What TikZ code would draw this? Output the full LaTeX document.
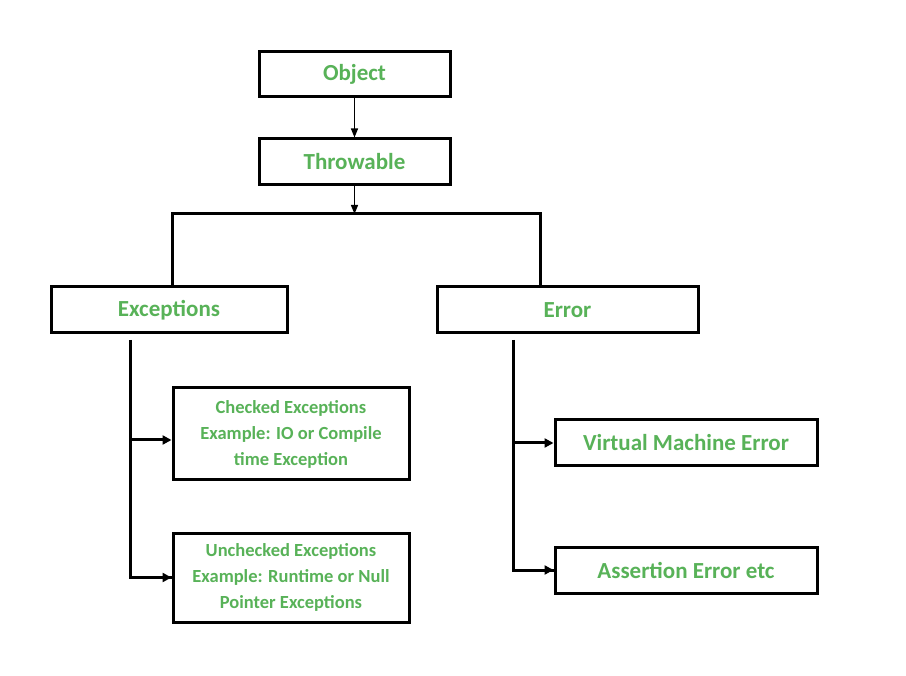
\documentclass[tikz,border=0pt]{standalone}
\usepackage{fontspec}
\setmainfont{Carlito}
\usetikzlibrary{arrows.meta}
\definecolor{gfg}{RGB}{88,178,88}
\tikzset{
  box/.style={draw=black, line width=3pt, fill=white, inner sep=0pt, align=center,
    text=gfg, font=\bfseries\fontsize{23}{27}\selectfont},
  smallbox/.style={box, font=\bfseries\fontsize{18.5}{26}\selectfont},
  thinarrow/.style={line width=1.2pt, -{Triangle[length=9pt,width=7pt]}},
  thick line/.style={line width=3pt},
  thickarrow/.style={line width=3pt, -{Triangle[length=9pt,width=9pt]}},
}
\begin{document}
\begin{tikzpicture}[x=1pt,y=-1pt]
\useasboundingbox[fill=white] (0,0) rectangle (906,676);
\node[box, minimum width=191pt, minimum height=45pt] (obj) at (354.5,74.5) {Object};
\node[box, minimum width=191pt, minimum height=46pt] (thr) at (354.5,162) {Throwable};
\node[box, minimum width=236pt, minimum height=46pt] (exc) at (169,310) {Exceptions};
\node[box, minimum width=261pt, minimum height=46pt] (err) at (567.5,310) {Error};
\node[smallbox, minimum width=236pt, minimum height=92pt] (chk) at (291,434) {Checked Exceptions\\Example: IO or Compile\\time Exception};
\node[smallbox, minimum width=236pt, minimum height=89pt] (unc) at (291,577.5) {Unchecked Exceptions\\Example: Runtime or Null\\Pointer Exceptions};
\node[box, minimum width=262pt, minimum height=46pt] (vme) at (686,443) {Virtual Machine Error};
\node[box, minimum width=262pt, minimum height=46pt] (ass) at (686,570) {Assertion Error etc};
\coordinate (bl) at (172,214);
\coordinate (br) at (540,214);
\coordinate (lt) at (130,340);
\coordinate (rt) at (513,340);
\draw[thinarrow] (obj.south) -- (thr.north);
\draw[thick line] (bl |- exc.north) -- (bl) -- (br) -- (br |- err.north);
\draw[thinarrow] (thr.south) -- (thr.south |- bl);
\draw[thick line] (lt) |- (unc.west);
\draw[thickarrow] (lt |- 0,440) -- (chk.west |- 0,440);
\draw[thickarrow] (lt |- unc.west) -- (unc.west);
\draw[thick line] (rt) |- (ass.west);
\draw[thickarrow] (rt |- vme.west) -- (vme.west);
\draw[thickarrow] (rt |- ass.west) -- (ass.west);
\end{tikzpicture}
\end{document}
